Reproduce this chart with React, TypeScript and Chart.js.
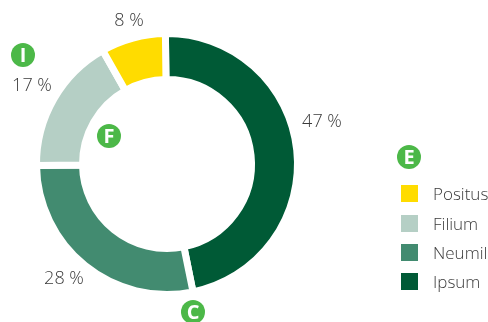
import React, { useEffect, useRef } from "react";
import { Chart, registerables } from "chart.js";

Chart.register(...registerables);

const categories = ["Ipsum", "Neumil", "Filium", "Positus"];
const seriesValues = [47, 28, 17, 8];
const sliceColors = ["#005a36", "#428b70", "#b5cfc5", "#ffdc00"];

const valueLabelPositions = [
  [322, 122],
  [64, 279],
  [32, 86],
  [129, 21],
];
const badgeLetters = ["I", "F", "C", "E"];
const badgePositions = [
  [23, 55],
  [109, 136],
  [193, 312],
  [409, 157],
];
const legendRows = [195, 225, 254, 283];
const swatchRows = [194, 224, 253, 282];

const TEXT = "#3a3a3a";
const BADGE = "#4cb848";
const FONT = '"Open Sans", sans-serif';

const overlays = {
  id: "overlays",
  afterDraw(chart: any) {
    const { ctx } = chart;
    ctx.save();
    ctx.textBaseline = "middle";

    ctx.fillStyle = TEXT;
    ctx.textAlign = "center";
    ctx.font = `300 18px ${FONT}`;
    seriesValues.forEach((v, i) => {
      const [x, y] = valueLabelPositions[i];
      ctx.fillText(`${v} %`, x, y);
    });

    badgeLetters.forEach((l, i) => {
      const [x, y] = badgePositions[i];
      ctx.fillStyle = BADGE;
      ctx.beginPath();
      ctx.arc(x, y, 12, 0, Math.PI * 2);
      ctx.fill();
      ctx.fillStyle = "#ffffff";
      ctx.font = `700 20px ${FONT}`;
      ctx.fillText(l, x, y + 1);
    });

    ctx.textAlign = "left";
    ctx.font = `300 17px ${FONT}`;
    const order = categories.map((_, i) => categories.length - 1 - i);
    order.forEach((idx, row) => {
      ctx.fillStyle = sliceColors[idx];
      ctx.fillRect(401, swatchRows[row] - 9, 17, 17);
      ctx.fillStyle = TEXT;
      ctx.fillText(categories[idx], 433, legendRows[row]);
    });
    ctx.restore();
  },
};

export default function App() {
  const ref = useRef<HTMLCanvasElement>(null);
  useEffect(() => {
    document.body.style.margin = "0";
    const chart = new Chart(ref.current!, {
      type: "doughnut",
      data: {
        labels: categories,
        datasets: [
          {
            data: seriesValues,
            backgroundColor: sliceColors,
            borderColor: "#ffffff",
            borderWidth: 7,
            hoverOffset: 0,
          },
        ],
      },
      options: {
        responsive: false,
        animation: false,
        cutout: "64.75%",
        rotation: -0.7,
        layout: { padding: { left: 33, right: 187, top: 30, bottom: 24 } },
        plugins: { legend: { display: false }, tooltip: { enabled: false } },
      },
      plugins: [overlays],
    });
    return () => chart.destroy();
  }, []);
  return (
    <div style={{ width: 488, height: 322 }}>
      <canvas ref={ref} width={488} height={322} style={{ display: "block" }} />
    </div>
  );
}
